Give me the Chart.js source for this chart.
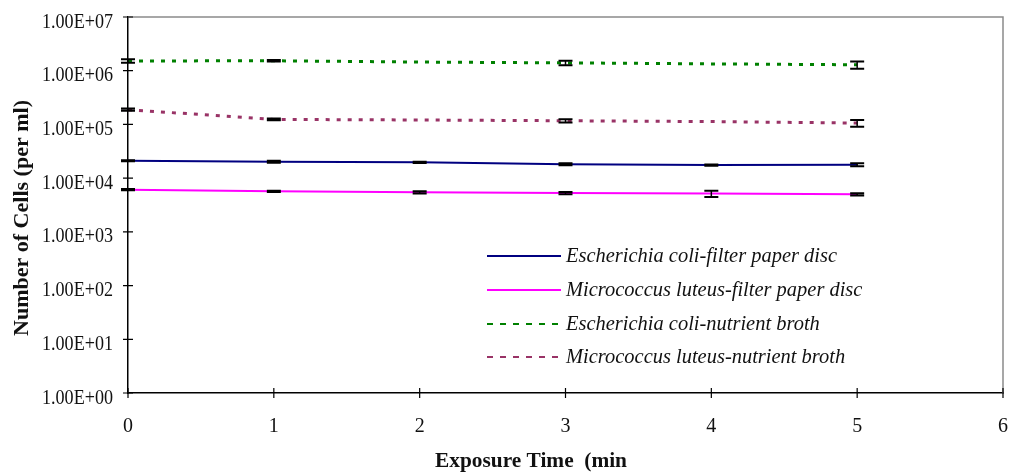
<!DOCTYPE html>
<html>
<head>
<meta charset="utf-8">
<script src="https://cdn.jsdelivr.net/npm/chart.js@4/dist/chart.umd.min.js"></script>
<style>
  html, body { margin: 0; padding: 0; background: #ffffff; }
  #wrap { width: 1010px; height: 476px; }
</style>
</head>
<body>
<div id="wrap"><canvas id="c" width="1010" height="476"></canvas></div>
<script>
// Exposure time (min)
const times = [0, 1, 2, 3, 4, 5];

// Cell counts per ml and their ± errors
const ecoliDisc      = [21000, 20200, 19700, 18100, 17500, 17800];
const ecoliDiscErr   = [450, 900, 600, 800, 400, 1200];
const luteusDisc     = [6100, 5700, 5450, 5270, 5150, 5000];
const luteusDiscErr  = [150, 150, 250, 250, 700, 250];
const ecoliBroth     = [1520000, 1530000, 1450000, 1400000, 1340000, 1290000];
const ecoliBrothErr  = [120000, 50000, 0, 140000, 0, 200000];
const luteusBroth    = [188000, 124000, 121000, 117000, 113000, 106000];
const luteusBrothErr = [9000, 5000, 0, 8000, 0, 15000];

const seriesNames = [
  'Escherichia coli-filter paper disc',
  'Micrococcus luteus-filter paper disc',
  'Escherichia coli-nutrient broth',
  'Micrococcus luteus-nutrient broth'
];

// Axis ticks
const xTickValues = [0, 1, 2, 3, 4, 5, 6];
const yTickValues = [1, 10, 100, 1000, 10000, 100000, 1000000, 10000000];
const yTickLabels = ['1.00E+00', '1.00E+01', '1.00E+02', '1.00E+03',
                     '1.00E+04', '1.00E+05', '1.00E+06', '1.00E+07'];

const xTitle = 'Exposure Time  (min';
const yTitle = 'Number of Cells (per ml)';

const SERIF = '"Liberation Serif", "Times New Roman", serif';

function pts(vals) { return times.map((t, i) => ({ x: t, y: vals[i] })); }

function drawText(ctx, s, x, y, opts) {
  ctx.save();
  ctx.translate(x, y);
  if (opts.rot) ctx.rotate(opts.rot);
  ctx.font = opts.font;
  let sx = opts.sx || 1;
  if (opts.fit) sx = opts.fit / ctx.measureText(s).width;
  ctx.scale(sx, 1);
  ctx.textAlign = opts.align || 'left';
  ctx.textBaseline = opts.baseline || 'alphabetic';
  ctx.fillStyle = opts.color || '#111';
  ctx.fillText(s, 0, 0);
  ctx.restore();
}

const decor = {
  id: 'decor',
  beforeDatasetsDraw(chart) {
    const { ctx, chartArea: a } = chart;
    ctx.save();
    ctx.strokeStyle = '#8a8a8a';
    ctx.lineWidth = 1.5;
    ctx.beginPath();
    ctx.moveTo(a.left, a.top);
    ctx.lineTo(a.right, a.top);
    ctx.lineTo(a.right, a.bottom);
    ctx.stroke();
    ctx.restore();
  },
  afterDatasetsDraw(chart) {
    const { ctx } = chart;
    const xs = chart.scales.x, ys = chart.scales.y;
    ctx.save();
    ctx.strokeStyle = '#000';
    chart.data.datasets.forEach(ds => {
      ds.errors.forEach((e, i) => {
        if (!e) return;
        const v = ds.data[i].y;
        const px = xs.getPixelForValue(ds.data[i].x);
        const top = ys.getPixelForValue(v + e);
        const bot = ys.getPixelForValue(v - e);
        ctx.lineWidth = 1.5;
        ctx.beginPath();
        ctx.moveTo(px, top); ctx.lineTo(px, bot);
        ctx.stroke();
        ctx.lineWidth = 2;
        ctx.beginPath();
        ctx.moveTo(px - 7, top); ctx.lineTo(px + 7, top);
        ctx.moveTo(px - 7, bot); ctx.lineTo(px + 7, bot);
        ctx.stroke();
      });
    });
    ctx.restore();
  },
  afterDraw(chart) {
    const { ctx, chartArea: a } = chart;
    const xs = chart.scales.x, ys = chart.scales.y;
    ctx.save();
    // crossing tick marks
    ctx.strokeStyle = '#000';
    ctx.lineWidth = 1.2;
    ctx.beginPath();
    yTickValues.forEach(v => {
      const py = ys.getPixelForValue(v);
      ctx.moveTo(a.left - 5, py); ctx.lineTo(a.left + 5, py);
    });
    xTickValues.forEach(v => {
      const px = xs.getPixelForValue(v);
      ctx.moveTo(px, a.bottom - 5); ctx.lineTo(px, a.bottom + 5);
    });
    ctx.stroke();

    // tick labels
    yTickValues.forEach((v, i) => {
      const py = ys.getPixelForValue(v);
      drawText(ctx, yTickLabels[i], a.left - 15, py + 10.5,
        { font: '21px ' + SERIF, fit: 71, align: 'right' });
    });
    xTickValues.forEach(v => {
      const px = xs.getPixelForValue(v);
      drawText(ctx, String(v), px, a.bottom + 39,
        { font: '20px ' + SERIF, align: 'center' });
    });

    // axis titles
    drawText(ctx, xTitle, 531, 467,
      { font: 'bold 20px ' + SERIF, fit: 192, align: 'center' });
    drawText(ctx, yTitle, 28, 218,
      { font: 'bold 22px ' + SERIF, fit: 236, align: 'center', rot: -Math.PI / 2 });

    // legend
    const rows = [256, 290, 324, 357];
    chart.data.datasets.forEach((ds, i) => {
      const ly = rows[i];
      ctx.save();
      ctx.strokeStyle = ds.borderColor;
      ctx.lineWidth = 2;
      if (ds.borderDash && ds.borderDash.length) ctx.setLineDash([6, 7]);
      ctx.beginPath();
      ctx.moveTo(487, ly); ctx.lineTo(561, ly);
      ctx.stroke();
      ctx.restore();
      drawText(ctx, ds.label, 566, ly + 6,
        { font: 'italic 22px ' + SERIF, sx: 0.93, align: 'left' });
    });
    ctx.restore();
  }
};

const lineBase = { pointRadius: 0, pointHoverRadius: 0, tension: 0, fill: false };

new Chart(document.getElementById('c'), {
  type: 'line',
  data: {
    datasets: [
      Object.assign({ label: seriesNames[0], data: pts(ecoliDisc), errors: ecoliDiscErr,
        borderColor: '#000080', borderWidth: 2 }, lineBase),
      Object.assign({ label: seriesNames[1], data: pts(luteusDisc), errors: luteusDiscErr,
        borderColor: '#ff00ff', borderWidth: 2 }, lineBase),
      Object.assign({ label: seriesNames[2], data: pts(ecoliBroth), errors: ecoliBrothErr,
        borderColor: '#008000', borderWidth: 3, borderDash: [4, 7] }, lineBase),
      Object.assign({ label: seriesNames[3], data: pts(luteusBroth), errors: luteusBrothErr,
        borderColor: '#993366', borderWidth: 3, borderDash: [4, 7] }, lineBase)
    ]
  },
  options: {
    responsive: false,
    animation: false,
    events: [],
    layout: { padding: { top: 17, right: 7, left: 0, bottom: 0 } },
    plugins: { legend: { display: false }, tooltip: { enabled: false } },
    scales: {
      x: {
        type: 'linear', min: 0, max: 6,
        grid: { display: false },
        border: { display: true, color: '#000', width: 1.5 },
        ticks: { display: false },
        afterFit(s) { s.height = 83; }
      },
      y: {
        type: 'logarithmic', min: 1, max: 10000000,
        grid: { display: false },
        border: { display: true, color: '#000', width: 1.5 },
        ticks: { display: false },
        afterFit(s) { s.width = 128; }
      }
    }
  },
  plugins: [decor]
});
</script>
</body>
</html>
